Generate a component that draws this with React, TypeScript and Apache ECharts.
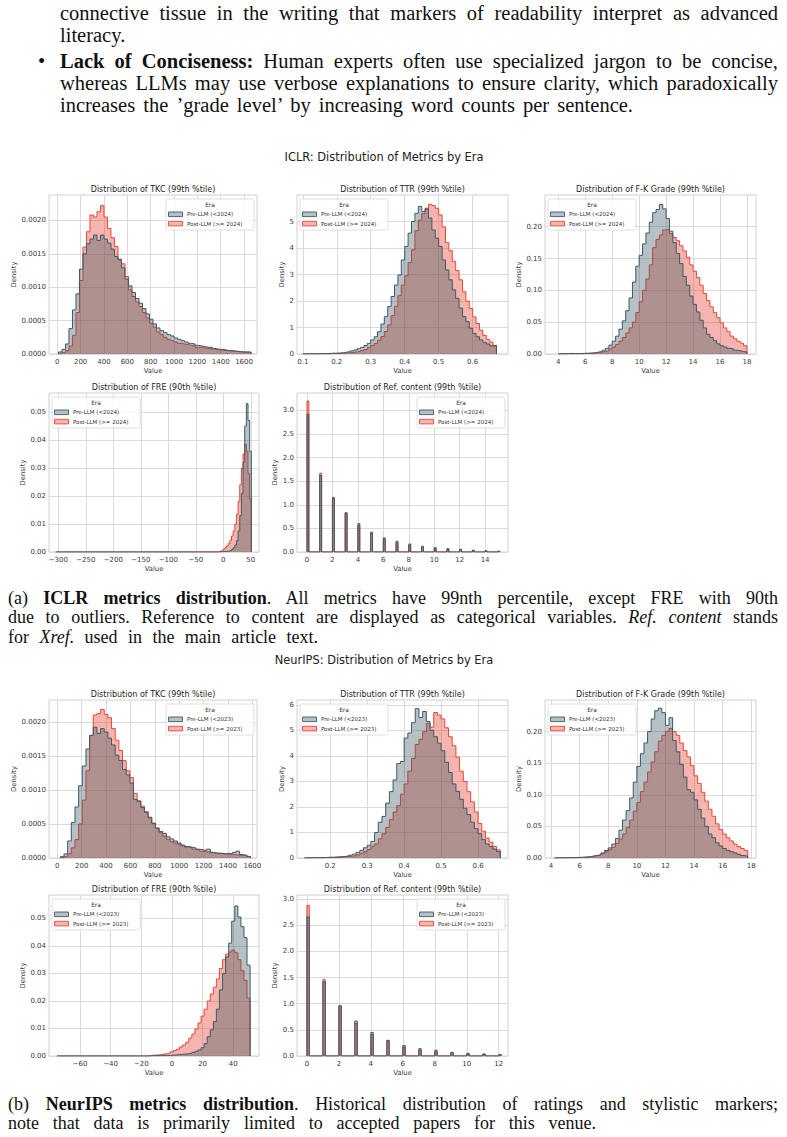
import React, { useEffect, useRef } from "react";
import * as echarts from "echarts";

const FONT = "'DejaVu Sans', 'Noto Sans', sans-serif";
const SERIF = "'Liberation Serif', 'DejaVu Serif', serif";

const PRE_LINE = "#3d5a68";
const PRE_BASE = "#35525f";
const PRE_RGBA = "rgba(53,82,95,0.36)";
const POST_LINE = "#e5483a";
const POST_BASE = "#e74c3c";
const POST_RGBA = "rgba(231,76,60,0.42)";

// ---------------- DATA ----------------
// TKC (token count) — ICLR, bins start 10, width 30
const tkcIclrStart = 10;
const tkcIclrWidth = 30;
const tkcIclrPre = [0.00003, 0.00007, 0.00015, 0.00038, 0.00066, 0.0009, 0.00127, 0.0015, 0.00165, 0.00172, 0.00178, 0.0017, 0.00178, 0.00172, 0.00166, 0.00157, 0.00146, 0.00141, 0.00129, 0.00112, 0.00102, 0.00092, 0.00083, 0.00076, 0.00068, 0.0006, 0.00052, 0.00045, 0.00039, 0.00035, 0.00032, 0.00029, 0.00027, 0.00024, 0.00022, 0.0002, 0.00018, 0.00016, 0.00015, 0.00013, 0.00012, 0.00011, 0.0001, 0.0001, 0.00008, 0.00007, 0.00007, 0.00006, 0.00005, 0.00005, 0.00004, 0.00004, 0.00003, 0.00003, 0.00003];
const tkcIclrPost = [0, 0.00002, 0.00005, 0.00012, 0.00028, 0.00062, 0.0011, 0.0016, 0.00183, 0.00208, 0.00205, 0.00213, 0.00222, 0.00205, 0.00188, 0.00174, 0.00161, 0.00142, 0.00135, 0.00116, 0.00096, 0.00086, 0.00078, 0.00071, 0.00062, 0.00054, 0.00046, 0.0004, 0.00033, 0.00029, 0.00025, 0.00022, 0.0002, 0.00018, 0.00016, 0.00015, 0.00014, 0.00013, 0.00012, 0.0001, 0.0001, 0.00009, 0.00008, 0.00008, 0.00007, 0.00006, 0.00006, 0.00005, 0.00005, 0.00004, 0.00004, 0.00003, 0.00003, 0.00003, 0.00002];
// TKC — NeurIPS, bins start 25, width 30
const tkcNeurStart = 25;
const tkcNeurWidth = 30;
const tkcNeurPre = [0.00002, 0.00006, 0.00025, 0.00052, 0.00075, 0.00106, 0.00135, 0.0016, 0.0018, 0.00192, 0.00183, 0.0019, 0.00185, 0.00176, 0.00166, 0.00151, 0.00143, 0.0013, 0.00122, 0.0011, 0.00086, 0.00083, 0.00074, 0.00067, 0.00059, 0.00051, 0.00044, 0.00039, 0.00036, 0.00031, 0.00028, 0.00025, 0.00022, 0.00019, 0.00017, 0.00016, 0.00015, 0.00013, 0.00012, 0.00011, 0.00013, 0.00008, 0.00007, 0.00007, 0.00006, 0.00007, 0.00006, 0.00008, 0.0001, 0.00005, 0.00004, 0.00002];
const tkcNeurPost = [0, 0.00002, 0.00006, 0.00015, 0.00027, 0.0005, 0.00085, 0.00128, 0.0018, 0.0021, 0.00212, 0.00218, 0.00211, 0.00206, 0.0019, 0.00173, 0.00158, 0.00143, 0.00128, 0.00118, 0.00095, 0.00084, 0.00076, 0.00068, 0.0006, 0.00051, 0.00044, 0.00037, 0.00032, 0.00027, 0.00024, 0.00022, 0.0002, 0.00018, 0.00016, 0.00015, 0.00013, 0.00012, 0.0001, 0.00009, 0.00009, 0.00008, 0.00007, 0.00007, 0.00006, 0.00006, 0.00005, 0.00005, 0.00004, 0.00004, 0.00003, 0.00002];

// TTR — ICLR, bins start 0.10, width 0.01
const ttrIclrStart = 0.1;
const ttrIclrWidth = 0.01;
const ttrIclrPre = [0.01, 0.01, 0.01, 0.01, 0.01, 0.01, 0.02, 0.02, 0.03, 0.03, 0.04, 0.05, 0.07, 0.09, 0.12, 0.15, 0.2, 0.25, 0.32, 0.4, 0.53, 0.65, 0.84, 1.13, 1.41, 1.79, 2.17, 2.6, 2.98, 3.55, 4.06, 4.56, 5.0, 5.31, 5.57, 5.38, 5.5, 5.13, 4.68, 4.37, 4.06, 3.55, 3.17, 2.8, 2.42, 2.1, 1.73, 1.41, 1.22, 0.97, 0.78, 0.65, 0.53, 0.44, 0.38, 0.31, 0.33];
const ttrIclrPost = [0, 0, 0, 0.01, 0.01, 0.01, 0.01, 0.01, 0.02, 0.02, 0.02, 0.03, 0.04, 0.05, 0.06, 0.08, 0.1, 0.13, 0.17, 0.24, 0.32, 0.4, 0.52, 0.66, 0.85, 1.1, 1.45, 1.8, 2.2, 2.6, 2.95, 3.45, 3.93, 4.65, 5.05, 5.3, 5.45, 5.65, 5.6, 5.5, 5.25, 4.8, 4.2, 3.9, 3.5, 3.15, 2.8, 2.35, 2.0, 1.72, 1.4, 1.15, 0.9, 0.7, 0.55, 0.45, 0.3];
// TTR — NeurIPS, bins start 0.13, width 0.01
const ttrNeurStart = 0.13;
const ttrNeurWidth = 0.01;
const ttrNeurPre = [0.01, 0.01, 0.01, 0.01, 0.02, 0.02, 0.03, 0.03, 0.04, 0.05, 0.06, 0.08, 0.11, 0.15, 0.22, 0.3, 0.4, 0.5, 0.65, 1.0, 1.4, 1.63, 2.15, 2.6, 3.06, 3.7, 3.78, 4.7, 4.9, 5.3, 5.85, 5.5, 5.74, 5.35, 5.0, 4.75, 4.5, 4.2, 3.75, 3.35, 2.9, 2.61, 2.3, 1.95, 1.7, 1.4, 1.15, 0.95, 0.72, 0.55, 0.45, 0.35, 0.25];
const ttrNeurPost = [0, 0, 0.01, 0.01, 0.01, 0.01, 0.02, 0.02, 0.03, 0.04, 0.05, 0.06, 0.07, 0.09, 0.12, 0.18, 0.25, 0.33, 0.45, 0.55, 0.75, 0.95, 1.2, 1.5, 1.8, 2.05, 2.5, 2.9, 3.4, 3.9, 4.45, 4.65, 4.95, 5.28, 5.12, 5.7, 5.6, 5.45, 5.1, 4.75, 4.4, 3.95, 3.4, 3.0, 2.6, 2.2, 1.8, 1.35, 1.05, 0.78, 0.62, 0.45, 0.32];

// F-K Grade — ICLR, bins start 4.0, width 0.25
const fkIclrStart = 4.0;
const fkIclrWidth = 0.25;
const fkIclrPre = [0.0005, 0.0008, 0.0005, 0.001, 0.0008, 0.0005, 0.0008, 0.001, 0.0012, 0.0015, 0.002, 0.003, 0.004, 0.006, 0.009, 0.014, 0.02, 0.028, 0.039, 0.052, 0.068, 0.088, 0.113, 0.138, 0.155, 0.173, 0.19, 0.207, 0.222, 0.227, 0.235, 0.228, 0.213, 0.193, 0.175, 0.158, 0.142, 0.122, 0.108, 0.091, 0.078, 0.066, 0.053, 0.041, 0.031, 0.026, 0.021, 0.016, 0.013, 0.011, 0.009, 0.008, 0.006, 0.005, 0.004, 0.003];
const fkIclrPost = [0, 0, 0.0003, 0.0003, 0.0005, 0.0005, 0.0005, 0.0008, 0.001, 0.001, 0.0015, 0.002, 0.003, 0.004, 0.005, 0.008, 0.011, 0.015, 0.02, 0.026, 0.033, 0.041, 0.05, 0.065, 0.082, 0.1, 0.118, 0.14, 0.167, 0.18, 0.187, 0.195, 0.196, 0.189, 0.183, 0.178, 0.17, 0.162, 0.152, 0.14, 0.13, 0.12, 0.108, 0.095, 0.084, 0.074, 0.065, 0.057, 0.049, 0.041, 0.035, 0.028, 0.024, 0.02, 0.017, 0.013];
// F-K Grade — NeurIPS, bins start 4.25, width 0.25
const fkNeurStart = 4.25;
const fkNeurWidth = 0.25;
const fkNeurPre = [0.0003, 0.0005, 0.0003, 0.0005, 0.0005, 0.0008, 0.001, 0.001, 0.0015, 0.002, 0.003, 0.004, 0.005, 0.008, 0.012, 0.016, 0.022, 0.031, 0.044, 0.06, 0.075, 0.095, 0.12, 0.145, 0.165, 0.182, 0.2, 0.22, 0.233, 0.237, 0.23, 0.21, 0.222, 0.186, 0.168, 0.148, 0.128, 0.108, 0.104, 0.092, 0.077, 0.063, 0.05, 0.038, 0.032, 0.024, 0.019, 0.015, 0.012, 0.01, 0.008, 0.006, 0.004, 0.003];
const fkNeurPost = [0, 0, 0.0003, 0.0003, 0.0005, 0.0005, 0.0008, 0.001, 0.0015, 0.002, 0.003, 0.004, 0.005, 0.007, 0.01, 0.013, 0.017, 0.023, 0.03, 0.038, 0.048, 0.06, 0.074, 0.088, 0.105, 0.12, 0.136, 0.152, 0.168, 0.185, 0.194, 0.2, 0.205, 0.2, 0.194, 0.182, 0.17, 0.16, 0.146, 0.13, 0.118, 0.104, 0.09, 0.077, 0.066, 0.054, 0.045, 0.038, 0.032, 0.027, 0.022, 0.018, 0.015, 0.012];

// FRE — ICLR, flat tail from -305, then bins start -9, width 3
const freIclrTail = -305;
const freIclrStart = -9;
const freIclrWidth = 3;
const freIclrPre = [0.00005, 0.0001, 0.0001, 0.0002, 0.0002, 0.0003, 0.0004, 0.0006, 0.0009, 0.0015, 0.0025, 0.004, 0.0075, 0.013, 0.021, 0.032, 0.045, 0.053, 0.047, 0.036];
const freIclrPost = [0.0002, 0.0004, 0.0006, 0.001, 0.0016, 0.0022, 0.003, 0.0042, 0.0057, 0.0075, 0.01, 0.0135, 0.018, 0.024, 0.03, 0.035, 0.0385, 0.036, 0.028, 0.019];
// FRE — NeurIPS, flat tail from -75, then bins start -15, width 2
const freNeurTail = -75;
const freNeurStart = -15;
const freNeurWidth = 2;
const freNeurPre = [0.0001, 0.0001, 0.0001, 0.0001, 0.0002, 0.0002, 0.0002, 0.0003, 0.0004, 0.0005, 0.0006, 0.0007, 0.0008, 0.001, 0.0013, 0.0017, 0.0022, 0.003, 0.0045, 0.007, 0.0095, 0.0125, 0.017, 0.024, 0.03, 0.036, 0.041, 0.049, 0.0545, 0.0505, 0.047, 0.043, 0.033];
const freNeurPost = [0.0002, 0.0003, 0.0004, 0.0005, 0.0007, 0.0009, 0.0011, 0.0015, 0.002, 0.0025, 0.0033, 0.004, 0.005, 0.0065, 0.008, 0.0098, 0.012, 0.0145, 0.017, 0.02, 0.0225, 0.025, 0.028, 0.0318, 0.035, 0.037, 0.0378, 0.0385, 0.0375, 0.035, 0.031, 0.0275, 0.021];

// Ref. content (categorical counts 0..n), narrow bins
const refBinWidth = 0.15;
const refIclrPre = [2.92, 1.62, 1.14, 0.83, 0.6, 0.42, 0.3, 0.23, 0.17, 0.12, 0.09, 0.07, 0.06, 0.04, 0.03, 0.02];
const refIclrPost = [3.2, 1.67, 1.16, 0.83, 0.56, 0.39, 0.27, 0.19, 0.14, 0.1, 0.08, 0.06, 0.05, 0.03, 0.02, 0.01];
const refNeurPre = [2.66, 1.42, 0.96, 0.67, 0.45, 0.3, 0.2, 0.14, 0.11, 0.07, 0.05, 0.04, 0.03];
const refNeurPost = [2.88, 1.46, 0.96, 0.62, 0.41, 0.29, 0.17, 0.11, 0.08, 0.06, 0.04, 0.03, 0.02];

// tick labels
const tkcXTicks = [0, 200, 400, 600, 800, 1000, 1200, 1400, 1600];
const tkcYTicks = [0, 0.0005, 0.001, 0.0015, 0.002];
const ttrIclrXTicks = [0.1, 0.2, 0.3, 0.4, 0.5, 0.6];
const ttrNeurXTicks = [0.2, 0.3, 0.4, 0.5, 0.6];
const ttrIclrYTicks = [0, 1, 2, 3, 4, 5];
const ttrNeurYTicks = [0, 1, 2, 3, 4, 5, 6];
const fkXTicks = [4, 6, 8, 10, 12, 14, 16, 18];
const fkYTicks = [0, 0.05, 0.1, 0.15, 0.2];
const freIclrXTicks = [-300, -250, -200, -150, -100, -50, 0, 50];
const freNeurXTicks = [-60, -40, -20, 0, 20, 40];
const freYTicks = [0, 0.01, 0.02, 0.03, 0.04, 0.05];
const refIclrXTicks = [0, 2, 4, 6, 8, 10, 12, 14];
const refNeurXTicks = [0, 2, 4, 6, 8, 10, 12];
const refYTicks = [0, 0.5, 1, 1.5, 2, 2.5, 3];

// --------------- helpers ---------------
function stepPoints(start: number, width: number, values: number[], tailFrom?: number) {
  const pts: number[][] = [];
  if (tailFrom !== undefined) pts.push([tailFrom, 0]);
  pts.push([start, 0]);
  values.forEach((v, i) => pts.push([start + i * width, v]));
  pts.push([start + values.length * width, 0]);
  return pts;
}

function barPoints(values: number[], width: number) {
  const pts: number[][] = [[0, 0]];
  values.forEach((v, k) => {
    pts.push([k, v]);
    pts.push([k + width, 0]);
  });
  return pts;
}

const fmt = (d: number) => (v: number) => {
  const s = Math.abs(v).toFixed(d);
  return v < 0 ? "\u2212" + s : s;
};

interface Panel {
  title: string;
  box: number[];
  x: number[];
  y: number[];
  xTicks: number[];
  yTicks: number[];
  xDec: number;
  yDec: number;
  pre: number[][];
  post: number[][];
  side: "left" | "right";
  year: string;
  yNameGap: number;
}

const panels: Panel[] = [
  { title: "Distribution of TKC (99th %tile)", box: [49, 195, 208, 159], x: [-71, 1711], y: [0, 0.00238], xTicks: tkcXTicks, yTicks: tkcYTicks, xDec: 0, yDec: 4, pre: stepPoints(tkcIclrStart, tkcIclrWidth, tkcIclrPre), post: stepPoints(tkcIclrStart, tkcIclrWidth, tkcIclrPost), side: "right", year: "2024", yNameGap: 31 },
  { title: "Distribution of TTR (99th %tile)", box: [297, 195, 211, 159], x: [0.083, 0.704], y: [0, 6.0], xTicks: ttrIclrXTicks, yTicks: ttrIclrYTicks, xDec: 1, yDec: 0, pre: stepPoints(ttrIclrStart, ttrIclrWidth, ttrIclrPre), post: stepPoints(ttrIclrStart, ttrIclrWidth, ttrIclrPost), side: "left", year: "2024", yNameGap: 11 },
  { title: "Distribution of F-K Grade (99th %tile)", box: [545, 195, 211, 159], x: [3.01, 18.67], y: [0, 0.2498], xTicks: fkXTicks, yTicks: fkYTicks, xDec: 0, yDec: 2, pre: stepPoints(fkIclrStart, fkIclrWidth, fkIclrPre), post: stepPoints(fkIclrStart, fkIclrWidth, fkIclrPost), side: "left", year: "2024", yNameGap: 22 },
  { title: "Distribution of FRE (90th %tile)", box: [49, 393, 210, 159], x: [-317, 65], y: [0, 0.0568], xTicks: freIclrXTicks, yTicks: freYTicks, xDec: 0, yDec: 2, pre: stepPoints(freIclrStart, freIclrWidth, freIclrPre, freIclrTail), post: stepPoints(freIclrStart, freIclrWidth, freIclrPost, freIclrTail), side: "left", year: "2024", yNameGap: 23 },
  { title: "Distribution of Ref. content (99th %tile)", box: [297, 393, 211, 159], x: [-0.785, 15.8], y: [0, 3.37], xTicks: refIclrXTicks, yTicks: refYTicks, xDec: 0, yDec: 1, pre: barPoints(refIclrPre, refBinWidth), post: barPoints(refIclrPost, refBinWidth), side: "right", year: "2024", yNameGap: 18 },
  { title: "Distribution of TKC (99th %tile)", box: [49, 700, 208, 158], x: [-68, 1638], y: [0, 0.00232], xTicks: tkcXTicks, yTicks: tkcYTicks, xDec: 0, yDec: 4, pre: stepPoints(tkcNeurStart, tkcNeurWidth, tkcNeurPre), post: stepPoints(tkcNeurStart, tkcNeurWidth, tkcNeurPost), side: "right", year: "2023", yNameGap: 31 },
  { title: "Distribution of TTR (99th %tile)", box: [297, 700, 211, 158], x: [0.11, 0.681], y: [0, 6.19], xTicks: ttrNeurXTicks, yTicks: ttrNeurYTicks, xDec: 1, yDec: 0, pre: stepPoints(ttrNeurStart, ttrNeurWidth, ttrNeurPre), post: stepPoints(ttrNeurStart, ttrNeurWidth, ttrNeurPost), side: "left", year: "2023", yNameGap: 11 },
  { title: "Distribution of F-K Grade (99th %tile)", box: [545, 700, 211, 158], x: [3.58, 18.33], y: [0, 0.25], xTicks: fkXTicks, yTicks: fkYTicks, xDec: 0, yDec: 2, pre: stepPoints(fkNeurStart, fkNeurWidth, fkNeurPre), post: stepPoints(fkNeurStart, fkNeurWidth, fkNeurPost), side: "left", year: "2023", yNameGap: 22 },
  { title: "Distribution of FRE (90th %tile)", box: [49, 895, 210, 161], x: [-80.2, 56.8], y: [0, 0.0585], xTicks: freNeurXTicks, yTicks: freYTicks, xDec: 0, yDec: 2, pre: stepPoints(freNeurStart, freNeurWidth, freNeurPre, freNeurTail), post: stepPoints(freNeurStart, freNeurWidth, freNeurPost, freNeurTail), side: "left", year: "2023", yNameGap: 23 },
  { title: "Distribution of Ref. content (99th %tile)", box: [297, 895, 211, 161], x: [-0.62, 12.58], y: [0, 3.08], xTicks: refNeurXTicks, yTicks: refYTicks, xDec: 0, yDec: 1, pre: barPoints(refNeurPre, refBinWidth), post: barPoints(refNeurPost, refBinWidth), side: "right", year: "2023", yNameGap: 18 },
];

const TICK_COLOR = "#3a3a3a";
const GRID_COLOR = "#dadada";

function legendGroup(p: Panel) {
  const [l, t, w] = p.box;
  const W = 88;
  const H = 31;
  const x = p.side === "left" ? l + 3 : l + w - 3 - W;
  const y = t + 4;
  const txt = (text: string, xx: number, yy: number, align: string, size: number) => ({
    type: "text",
    x: xx,
    y: yy,
    z: 100,
    style: { text, fontSize: size, fontFamily: FONT, fill: "#333", align, verticalAlign: "middle", textAlign: align, textVerticalAlign: "middle" },
  });
  return {
    type: "group",
    x,
    y,
    silent: true,
    children: [
      { type: "rect", z: 99, shape: { x: 0, y: 0, width: W, height: H, r: 1.5 }, style: { fill: "rgba(255,255,255,0.85)", stroke: "#d8d8d8", lineWidth: 0.8 } },
      txt("Era", W / 2, 6, "center", 5.9),
      { type: "rect", z: 100, shape: { x: 2.5, y: 13, width: 14, height: 4.6 }, style: { fill: PRE_RGBA, stroke: PRE_LINE, lineWidth: 0.9 } },
      txt(`Pre-LLM (<${p.year})`, 21, 15.4, "left", 5.5),
      { type: "rect", z: 100, shape: { x: 2.5, y: 22.3, width: 14, height: 4.6 }, style: { fill: POST_RGBA, stroke: POST_LINE, lineWidth: 0.9 } },
      txt(`Post-LLM (>= ${p.year})`, 21, 24.7, "left", 5.5),
    ],
  };
}

function buildOption() {
  const graphic: any[] = [];
  graphic.push({ type: "text", x: 384, y: 157, z: 100, style: { text: "ICLR: Distribution of Metrics by Era", fontSize: 11.4, fontFamily: FONT, fill: "#222", align: "center", verticalAlign: "middle", textAlign: "center", textVerticalAlign: "middle" } });
  graphic.push({ type: "text", x: 384, y: 660, z: 100, style: { text: "NeurIPS: Distribution of Metrics by Era", fontSize: 11.4, fontFamily: FONT, fill: "#222", align: "center", verticalAlign: "middle", textAlign: "center", textVerticalAlign: "middle" } });
  panels.forEach((p) => {
    graphic.push({
      type: "text",
      x: p.box[0] + p.box[2] / 2,
      y: p.box[1] - 5.5,
      z: 100,
      style: { text: p.title, fontSize: 8, fontFamily: FONT, fill: "#262626", align: "center", verticalAlign: "middle", textAlign: "center", textVerticalAlign: "middle" },
    });
    graphic.push(legendGroup(p));
  });

  const series: any[] = [];
  panels.forEach((p, i) => {
    series.push({
      type: "line",
      name: "Post-LLM",
      xAxisIndex: i,
      yAxisIndex: i,
      data: p.post,
      step: "end",
      symbol: "none",
      showSymbol: false,
      silent: true,
      z: 2,
      lineStyle: { color: POST_LINE, width: 1 },
      itemStyle: { color: POST_LINE },
      areaStyle: { color: POST_BASE, opacity: 0.42 },
    });
    series.push({
      type: "line",
      name: "Pre-LLM",
      xAxisIndex: i,
      yAxisIndex: i,
      data: p.pre,
      step: "end",
      symbol: "none",
      showSymbol: false,
      silent: true,
      z: 3,
      lineStyle: { color: PRE_LINE, width: 1 },
      itemStyle: { color: PRE_LINE },
      areaStyle: { color: PRE_BASE, opacity: 0.36 },
    });
  });

  return {
    animation: false,
    backgroundColor: "#ffffff",
    textStyle: { fontFamily: FONT },
    grid: panels.map((p) => ({
      left: p.box[0],
      top: p.box[1],
      width: p.box[2],
      height: p.box[3],
      show: true,
      borderColor: "#d0d0d0",
      borderWidth: 1,
      backgroundColor: "#ffffff",
      containLabel: false,
      outerBoundsMode: "none",
    })),
    xAxis: panels.map((p, i) => ({
      type: "value",
      gridIndex: i,
      min: p.x[0],
      max: p.x[1],
      name: "Value",
      nameLocation: "middle",
      nameGap: 13.5,
      nameTextStyle: { fontSize: 6.8, color: TICK_COLOR, fontFamily: FONT },
      axisLine: { show: false },
      axisTick: { show: false, customValues: p.xTicks },
      axisLabel: { customValues: p.xTicks, formatter: fmt(p.xDec), fontSize: 7, color: TICK_COLOR, margin: 4.5, fontFamily: FONT },
      splitLine: { show: true, lineStyle: { color: GRID_COLOR, width: 1 } },
    })),
    yAxis: panels.map((p, i) => ({
      type: "value",
      gridIndex: i,
      min: p.y[0],
      max: p.y[1],
      name: "Density",
      nameLocation: "middle",
      nameGap: p.yNameGap,
      nameTextStyle: { fontSize: 6.8, color: TICK_COLOR, fontFamily: FONT },
      axisLine: { show: false },
      axisTick: { show: false, customValues: p.yTicks },
      axisLabel: { customValues: p.yTicks, formatter: fmt(p.yDec), fontSize: 7, color: TICK_COLOR, margin: 3, fontFamily: FONT },
      splitLine: { show: true, lineStyle: { color: GRID_COLOR, width: 1 } },
    })),
    series,
    graphic,
  };
}

const BODY = 20.5;
const CAP = 18;

function Line(props: { left: number; right: number; baseline: number; size: number; justify?: boolean; children: React.ReactNode }) {
  const { left, right, baseline, size, justify, children } = props;
  return (
    <div
      style={{
        position: "absolute",
        left,
        top: baseline - 0.8375 * size,
        width: right - left,
        fontSize: size,
        lineHeight: `${size}px`,
        fontFamily: SERIF,
        color: "#111",
        whiteSpace: "nowrap",
        textAlign: justify ? "justify" : "left",
        textAlignLast: justify ? "justify" : "left",
      } as React.CSSProperties}
    >
      {children}
    </div>
  );
}

export default function App() {
  const ref = useRef<HTMLDivElement>(null);
  useEffect(() => {
    const chart = echarts.init(ref.current as HTMLDivElement, null, { renderer: "svg" });
    chart.setOption(buildOption() as any);
    return () => chart.dispose();
  }, []);
  return (
    <div style={{ position: "absolute", left: 0, top: 0, width: 787, height: 1137, background: "#fff", overflow: "hidden" }}>
      <div ref={ref} style={{ position: "absolute", left: 0, top: 0, width: 787, height: 1137 }} />
      <Line left={60} right={778} baseline={20.5} size={BODY} justify>
        connective tissue in the writing that markers of readability interpret as advanced
      </Line>
      <Line left={60} right={140} baseline={42.5} size={BODY}>
        literacy.
      </Line>
      <div style={{ position: "absolute", left: 38, top: 68 - 0.8375 * BODY, fontSize: BODY, lineHeight: `${BODY}px`, fontFamily: SERIF, color: "#111" }}>•</div>
      <Line left={60} right={778} baseline={68} size={BODY} justify>
        <b>Lack of Conciseness:</b> Human experts often use specialized jargon to be concise,
      </Line>
      <Line left={60} right={778} baseline={90} size={BODY} justify>
        whereas LLMs may use verbose explanations to ensure clarity, which paradoxically
      </Line>
      <Line left={60} right={633} baseline={112} size={BODY} justify>
        increases the ’grade level’ by increasing word counts per sentence.
      </Line>

      <Line left={8} right={778} baseline={604} size={CAP} justify>
        (a) <b>ICLR metrics distribution</b>. All metrics have 99nth percentile, except FRE with 90th
      </Line>
      <Line left={8} right={778} baseline={623.5} size={CAP} justify>
        due to outliers. Reference to content are displayed as categorical variables. <i>Ref. content</i> stands
      </Line>
      <Line left={8} right={318} baseline={643} size={CAP} justify>
        for <i>Xref.</i> used in the main article text.
      </Line>

      <Line left={8} right={778} baseline={1110} size={CAP} justify>
        (b) <b>NeurIPS metrics distribution</b>. Historical distribution of ratings and stylistic markers;
      </Line>
      <Line left={8} right={596} baseline={1129} size={CAP} justify>
        note that data is primarily limited to accepted papers for this venue.
      </Line>
    </div>
  );
}
